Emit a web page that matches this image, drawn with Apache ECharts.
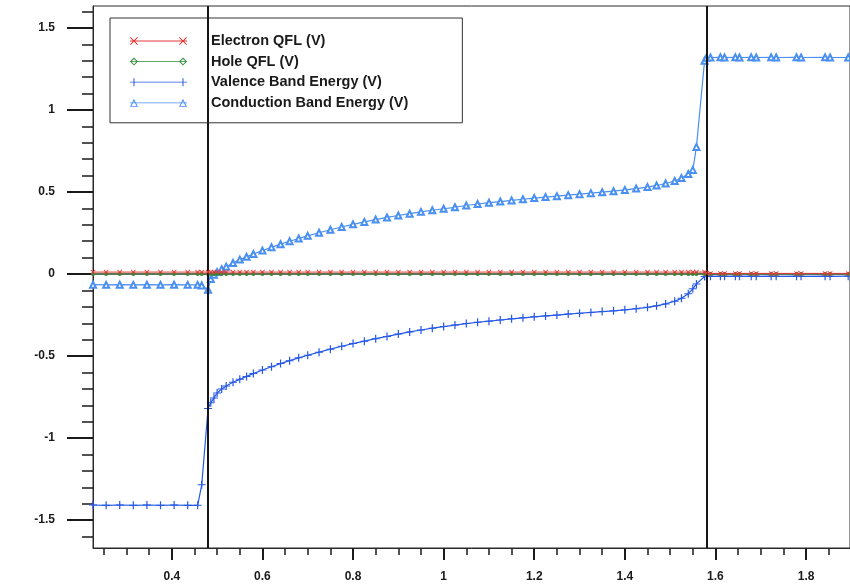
<!DOCTYPE html>
<html>
<head>
<meta charset="utf-8">
<script src="https://cdn.jsdelivr.net/npm/echarts@6/dist/echarts.min.js"></script>
<style>
  html, body { margin: 0; padding: 0; background: #fff; }
  #root { width: 850px; height: 585px; }
</style>
</head>
<body>
<div id="root"></div>
<script>
// mesh positions (um) shared by all four curves
const xNodes = [
  0.226, 0.255, 0.285, 0.315, 0.345, 0.375, 0.405, 0.435, 0.457, 0.466, 0.48,
  0.486, 0.493, 0.5, 0.51, 0.52, 0.535, 0.55, 0.565, 0.58, 0.6, 0.62, 0.64, 0.66, 0.68,
  0.7, 0.725, 0.75, 0.775, 0.8, 0.825, 0.85, 0.875, 0.9, 0.925, 0.95, 0.975, 1.0, 1.025,
  1.05, 1.075, 1.1, 1.125, 1.15, 1.175, 1.2, 1.225, 1.25, 1.275, 1.3, 1.325, 1.35, 1.375,
  1.4, 1.425, 1.45, 1.47, 1.49, 1.51, 1.525, 1.54, 1.55, 1.558, 1.576,
  1.58, 1.589, 1.611, 1.62, 1.644, 1.653, 1.679, 1.69, 1.723, 1.734, 1.779, 1.789, 1.842, 1.853, 1.893
];

const electronQfl = [
  0.012, 0.012, 0.012, 0.012, 0.012, 0.012, 0.012, 0.012, 0.012, 0.012, 0.012,
  0.012, 0.012, 0.012, 0.012, 0.012, 0.012, 0.012, 0.012, 0.012, 0.012, 0.012, 0.012, 0.012, 0.012,
  0.012, 0.012, 0.012, 0.012, 0.012, 0.012, 0.012, 0.012, 0.012, 0.012, 0.012, 0.012, 0.012, 0.012,
  0.012, 0.012, 0.012, 0.012, 0.012, 0.012, 0.012, 0.012, 0.012, 0.012, 0.012, 0.012, 0.012, 0.012,
  0.012, 0.012, 0.012, 0.012, 0.012, 0.012, 0.012, 0.012, 0.012, 0.012, 0.012,
  0.006, 0.004, 0.004, 0.004, 0.004, 0.004, 0.004, 0.004, 0.004, 0.004, 0.004, 0.004, 0.004, 0.004, 0.004
];

const holeQfl = [
  0.0, 0.0, 0.0, 0.0, 0.0, 0.0, 0.0, 0.0, 0.0, 0.0, 0.0,
  0.0, 0.0, 0.0, 0.0, 0.0, 0.0, 0.0, 0.0, 0.0, 0.0, 0.0, 0.0, 0.0, 0.0,
  0.0, 0.0, 0.0, 0.0, 0.0, 0.0, 0.0, 0.0, 0.0, 0.0, 0.0, 0.0, 0.0, 0.0,
  0.0, 0.0, 0.0, 0.0, 0.0, 0.0, 0.0, 0.0, 0.0, 0.0, 0.0, 0.0, 0.0, 0.0,
  0.0, 0.0, 0.0, 0.0, 0.0, 0.0, 0.0, 0.0, 0.0, 0.0, 0.0,
  0.0, 0.0, 0.0, 0.0, 0.0, 0.0, 0.0, 0.0, 0.0, 0.0, 0.0, 0.0, 0.0, 0.0, 0.0
];

const valenceBand = [
  -1.408, -1.41, -1.408, -1.41, -1.408, -1.41, -1.408, -1.41, -1.41, -1.285, -0.82,
  -0.785, -0.755, -0.725, -0.7, -0.682, -0.66, -0.642, -0.624, -0.607, -0.585, -0.565, -0.546, -0.528, -0.511,
  -0.495, -0.476, -0.458, -0.44, -0.424, -0.409, -0.394, -0.38, -0.366, -0.353, -0.341, -0.33, -0.32, -0.311,
  -0.302, -0.294, -0.287, -0.28, -0.273, -0.267, -0.261, -0.255, -0.25, -0.244, -0.239, -0.234, -0.229, -0.224,
  -0.218, -0.211, -0.203, -0.194, -0.182, -0.166, -0.148, -0.12, -0.09, -0.06, -0.015,
  -0.013, -0.014, -0.013, -0.014, -0.013, -0.014, -0.013, -0.014, -0.013, -0.014, -0.013, -0.014, -0.013, -0.014, -0.013
];

const conductionBand = [
  -0.065, -0.066, -0.065, -0.066, -0.065, -0.066, -0.065, -0.066, -0.066, -0.07, -0.095,
  -0.03, -0.005, 0.012, 0.03, 0.045, 0.067, 0.088, 0.105, 0.122, 0.143, 0.163, 0.182, 0.2, 0.217,
  0.233, 0.252, 0.27, 0.287, 0.303, 0.318, 0.332, 0.345, 0.357, 0.368, 0.379, 0.389, 0.398, 0.407,
  0.418, 0.427, 0.435, 0.442, 0.449, 0.456, 0.463, 0.469, 0.475, 0.481, 0.487, 0.493, 0.499, 0.505,
  0.513, 0.521, 0.53, 0.54, 0.552, 0.567, 0.585, 0.61, 0.635, 0.775, 1.3,
  1.318, 1.32, 1.321, 1.32, 1.321, 1.32, 1.321, 1.32, 1.321, 1.32, 1.321, 1.32, 1.321, 1.32, 1.32
];

// region boundaries (heterojunctions)
const junctionX = [0.48, 1.576];

const xMajorTicks = [0.4, 0.6, 0.8, 1, 1.2, 1.4, 1.6, 1.8];
const xMinorTicks = [0.25, 0.3, 0.35, 0.45, 0.5, 0.55, 0.65, 0.7, 0.75, 0.85, 0.9, 0.95,
  1.05, 1.1, 1.15, 1.25, 1.3, 1.35, 1.45, 1.5, 1.55, 1.65, 1.7, 1.75, 1.85];
const yMajorTicks = [-1.5, -1, -0.5, 0, 0.5, 1, 1.5];
const yMinorTicks = [-1.6, -1.4, -1.3, -1.2, -1.1, -0.9, -0.8, -0.7, -0.6, -0.4, -0.3, -0.2, -0.1,
  0.1, 0.2, 0.3, 0.4, 0.6, 0.7, 0.8, 0.9, 1.1, 1.2, 1.3, 1.4, 1.6];

const seriesNames = ['Electron QFL (V)', 'Hole QFL (V)', 'Valence Band Energy (V)', 'Conduction Band Energy (V)'];
const seriesColors = ['#e23a36', '#2f8a3a', '#2659e6', '#4a8ff2'];

const xMin = 0.226, xMax = 1.897, yMin = -1.67, yMax = 1.634;

const pair = (ys) => xNodes.map((x, i) => [x, ys[i]]);

// legend icons: line with a marker at each end, drawn in a 57x8 box
const LINE = 'M0 3.6 L57 3.6 L57 4.4 L0 4.4 Z ';
const legendIcons = [
  'path://' + LINE + 'M0 0.7 L0.7 0 L8 7.3 L7.3 8 Z M7.3 0 L8 0.7 L0.7 8 L0 7.3 Z ' +
    'M49 0.7 L49.7 0 L57 7.3 L56.3 8 Z M56.3 0 L57 0.7 L49.7 8 L49 7.3 Z',
  'path://' + LINE + 'M0 4 L4 0 L8 4 L4 8 Z M1.4 4 L4 6.6 L6.6 4 L4 1.4 Z ' +
    'M49 4 L53 0 L57 4 L53 8 Z M50.4 4 L53 6.6 L55.6 4 L53 1.4 Z',
  'path://' + LINE + 'M3.5 0 L4.5 0 L4.5 8 L3.5 8 Z M52.5 0 L53.5 0 L53.5 8 L52.5 8 Z',
  'path://' + LINE + 'M4 0 L8 8 L0 8 Z M4 2.2 L1.5 7.2 L6.5 7.2 Z ' +
    'M53 0 L57 8 L49 8 Z M53 2.2 L50.5 7.2 L55.5 7.2 Z'
];

const xSymbol = 'path://M0 0.9 L0.9 0 L8 7.1 L7.1 8 Z M7.1 0 L8 0.9 L0.9 8 L0 7.1 Z';
const plusSymbol = 'path://M3.4 0 L4.6 0 L4.6 8 L3.4 8 Z M0 3.5 L8 3.5 L8 4.5 L0 4.5 Z';

const labelFont = { fontFamily: 'Liberation Sans, Arial, sans-serif', fontWeight: 'bold', fontSize: 12, color: '#1a1a1a' };

const chart = echarts.init(document.getElementById('root'));
chart.setOption({
  backgroundColor: '#fff',
  animation: false,
  grid: {
    left: 93, top: 6, right: -2, bottom: 37,
    show: true, borderColor: '#2a2a2a', borderWidth: 1
  },
  legend: {
    orient: 'vertical',
    left: 110, top: 18,
    padding: [15, 54, 12, 20],
    borderColor: '#333', borderWidth: 1,
    backgroundColor: '#fff',
    itemWidth: 57, itemHeight: 9, itemGap: 4.6,
    itemStyle: { borderWidth: 0 },
    textStyle: {
      fontFamily: 'Liberation Sans, Arial, sans-serif', fontWeight: 'bold', fontSize: 14.5,
      color: '#1a1a1a', lineHeight: 16, padding: [0, 0, 0, 19]
    },
    data: seriesNames.map((n, i) => ({ name: n, icon: legendIcons[i] }))
  },
  xAxis: [
    {
      type: 'value', min: xMin, max: xMax, position: 'bottom',
      axisLine: { show: true, onZero: false, lineStyle: { color: '#2a2a2a', width: 1 } },
      axisTick: { show: true, customValues: xMajorTicks, length: 12, lineStyle: { color: '#1a1a1a', width: 2 } },
      axisLabel: { customValues: xMajorTicks, margin: 23, ...labelFont },
      splitLine: { show: false }
    },
    {
      type: 'value', min: xMin, max: xMax, position: 'bottom',
      axisLine: { show: false, onZero: false },
      axisTick: { show: true, customValues: xMinorTicks, length: 7, lineStyle: { color: '#1a1a1a', width: 1.5 } },
      axisLabel: { show: false },
      splitLine: { show: false }
    }
  ],
  yAxis: [
    {
      type: 'value', min: yMin, max: yMax, position: 'left',
      axisLine: { show: true, onZero: false, lineStyle: { color: '#2a2a2a', width: 1 } },
      axisTick: { show: true, customValues: yMajorTicks, length: 26, lineStyle: { color: '#1a1a1a', width: 2 } },
      axisLabel: { customValues: yMajorTicks, margin: 38, ...labelFont },
      splitLine: { show: false }
    },
    {
      type: 'value', min: yMin, max: yMax, position: 'left',
      axisLine: { show: false, onZero: false },
      axisTick: { show: true, customValues: yMinorTicks, length: 11, lineStyle: { color: '#1a1a1a', width: 1.5 } },
      axisLabel: { show: false },
      splitLine: { show: false }
    }
  ],
  series: [
    {
      name: seriesNames[3], type: 'line', data: pair(conductionBand),
      color: seriesColors[3], symbol: 'emptyTriangle', symbolSize: 6,
      lineStyle: { width: 1.2 }, itemStyle: { borderWidth: 1 }, z: 2,
      markLine: {
        silent: true, symbol: 'none', label: { show: false },
        lineStyle: { color: '#151515', width: 2, type: 'solid' },
        data: junctionX.map(x => ({ xAxis: x }))
      }
    },
    {
      name: seriesNames[2], type: 'line', data: pair(valenceBand),
      color: seriesColors[2], symbol: plusSymbol, symbolSize: 8,
      lineStyle: { width: 1.2 }, z: 3
    },
    {
      name: seriesNames[1], type: 'line', data: pair(holeQfl),
      color: seriesColors[1], symbol: 'circle', symbolSize: 4,
      lineStyle: { width: 1.5, color: '#1f4d22' }, z: 4
    },
    {
      name: seriesNames[0], type: 'line', data: pair(electronQfl),
      color: seriesColors[0], symbol: xSymbol, symbolSize: 5,
      lineStyle: { width: 1 }, z: 5
    }
  ]
});
</script>
</body>
</html>
